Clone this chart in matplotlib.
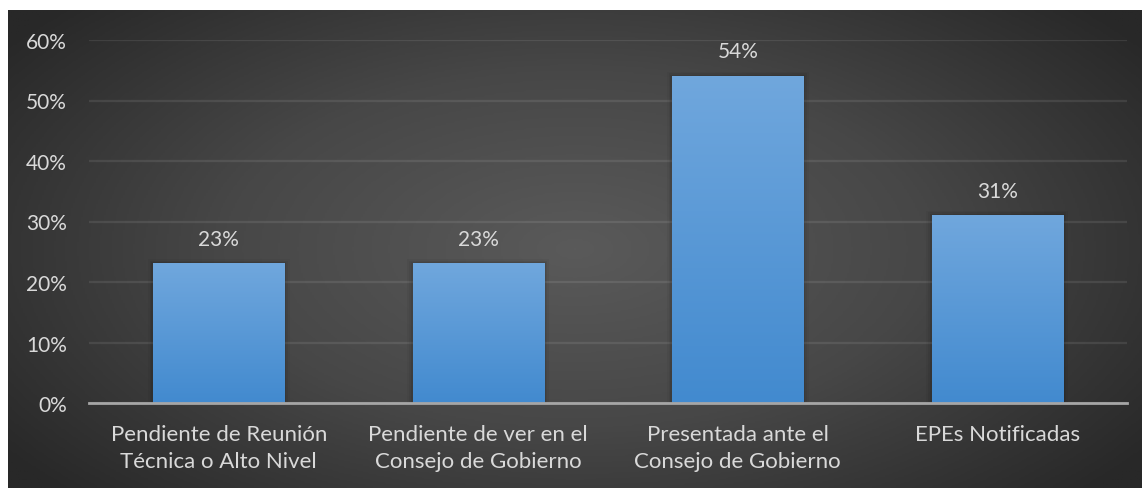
import matplotlib.pyplot as plt
import numpy as np
from matplotlib.colors import LinearSegmentedColormap

categories = ["Pendiente de Reunión\nTécnica o Alto Nivel",
              "Pendiente de ver en el\nConsejo de Gobierno",
              "Presentada ante el\nConsejo de Gobierno",
              "EPEs Notificadas"]
values = [23, 23, 54, 31]
yticks = [0, 10, 20, 30, 40, 50, 60]

plt.rcParams['font.family'] = ['Lato', 'DejaVu Sans']
W, H = 1142, 489
fig = plt.figure(figsize=(W / 100, H / 100), dpi=100, facecolor='white')

# dark radial background panel
bg = fig.add_axes([8 / W, 0, 1 - 8 / W, 1 - 11 / H])
bg.set_axis_off()
yy, xx = np.mgrid[0:1:300j, 0:1:600j]
r = np.sqrt(((xx - 0.5) / 0.62) ** 2 + ((yy - 0.5) / 0.75) ** 2)
r = np.clip(r, 0, 1)
shade = LinearSegmentedColormap.from_list('bg', ['#5a5a5a', '#474747', '#282828'])
bg.imshow(r, cmap=shade, aspect='auto', extent=[0, 1, 0, 1], vmin=0, vmax=1)

# plot area in pixel coordinates
x0, x1 = 89, 1127
ytop, ybot = 41, 404
ax = fig.add_axes([x0 / W, 1 - ybot / H, (x1 - x0) / W, (ybot - ytop) / H])
ax.set_facecolor('none')

bar_w = 0.505
bar_cmap = LinearSegmentedColormap.from_list('bar', ['#428acf', '#70a7dd'])
grad = np.linspace(0, 1, 256).reshape(-1, 1)
for i, v in enumerate(values):
    # soft shadow behind each bar
    for k, a in enumerate([0.07, 0.05, 0.04]):
        pad = 0.007 * (k + 1)
        ax.add_patch(plt.Rectangle((i - bar_w / 2 - pad, 0), bar_w + 2 * pad, v + 0.25 * (k + 1),
                                   color='black', alpha=a, lw=0, zorder=2))
    ax.imshow(grad, cmap=bar_cmap, origin='lower', aspect='auto',
              extent=[i - bar_w / 2, i + bar_w / 2, 0, v], zorder=3)
    ax.text(i, v + 4.1, f"{v}%", ha='center', va='center', fontsize=15, color='#d9d9d9', zorder=4)

ax.set_xlim(-0.5, len(categories) - 0.5)
ax.set_ylim(0, 60)
ax.set_yticks(yticks)
ax.set_yticklabels([f"{t}%" for t in yticks])
ax.set_xticks(range(len(categories)))
ax.set_xticklabels(categories, linespacing=1.45)
ax.tick_params(axis='both', length=0, colors='#d9d9d9')
ax.tick_params(axis='y', pad=16, labelsize=15)
ax.tick_params(axis='x', pad=15, labelsize=16)
ax.grid(axis='y', color='white', alpha=0.09, lw=1.6, zorder=1)
for s in ['top', 'right', 'left']:
    ax.spines[s].set_visible(False)
ax.spines['bottom'].set_color('#a6a6a6')
ax.spines['bottom'].set_linewidth(2)
ax.spines['bottom'].set_zorder(5)

fig.savefig('out.png', dpi=100, facecolor='white')
